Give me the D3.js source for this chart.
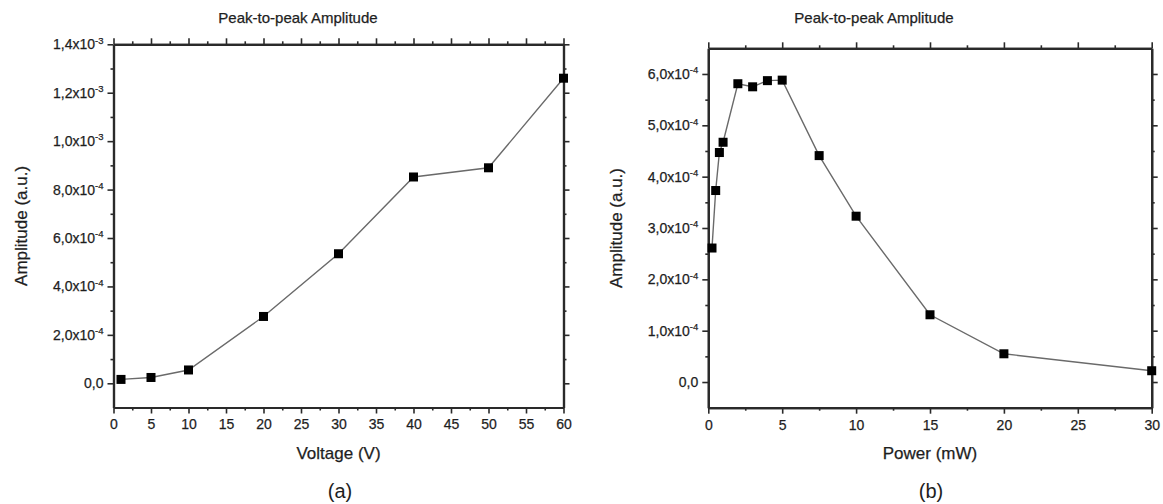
<!DOCTYPE html>
<html>
<head>
<meta charset="utf-8">
<script src="https://cdn.jsdelivr.net/npm/d3@7"></script>
<style>
  body { margin: 0; background: #fff; }
  svg { display: block; font-family: "Liberation Sans", Arial, sans-serif; }
  text { stroke: #1e1e1e; stroke-width: 0.25px; }
</style>
</head>
<body>
<svg id="chart"></svg>
<script>
// Panel (a): amplitude vs voltage
const voltage = [1, 5, 10, 20, 30, 40, 50, 60];
const ampVoltage = [1.6e-5, 2.4e-5, 5.5e-5, 2.76e-4, 5.35e-4, 8.52e-4, 8.9e-4, 1.26e-3];
const voltageTicks = [0, 5, 10, 15, 20, 25, 30, 35, 40, 45, 50, 55, 60];
const ampVoltageTicks = [0, 2e-4, 4e-4, 6e-4, 8e-4, 1.0e-3, 1.2e-3, 1.4e-3];

// Panel (b): amplitude vs power
const power = [0.25, 0.5, 0.75, 1, 2, 3, 4, 5, 7.5, 10, 15, 20, 30];
const ampPower = [2.61e-4, 3.73e-4, 4.47e-4, 4.67e-4, 5.81e-4, 5.75e-4, 5.87e-4, 5.88e-4, 4.41e-4, 3.23e-4, 1.31e-4, 5.5e-5, 2.2e-5];
const powerTicks = [0, 5, 10, 15, 20, 25, 30];
const ampPowerTicks = [0, 1e-4, 2e-4, 3e-4, 4e-4, 5e-4, 6e-4];

const width = 1163, height = 504;
const svg = d3.select("#chart").attr("width", width).attr("height", height);
const ink = "#1e1e1e";

// "6,0x10^-4" style label, written into a text node
function sciLabel(sel, v) {
    if (v === 0) { sel.text("0,0"); return; }
    const e = Math.floor(Math.log10(Math.abs(v)) + 1e-9);
    const m = (v / Math.pow(10, e)).toFixed(1).replace(".", ",");
    sel.text(null);
    sel.append("tspan").text(m + "x10");
    sel.append("tspan").style("font-size", "9.5px").attr("dy", "-0.6em").text(e);
}

function midTicks(ticks) {
    const out = [];
    for (let i = 0; i < ticks.length - 1; i++) out.push((ticks[i] + ticks[i + 1]) / 2);
    return out;
}

function styleAxis(a) {
    a.select(".domain").attr("stroke", "#2a2a2a").attr("stroke-width", 2.2);
    a.selectAll(".tick line").attr("stroke", "#2a2a2a").attr("stroke-width", 1.6);
    a.selectAll(".tick text")
        .attr("fill", ink)
        .style("font-family", "'Liberation Sans', Arial, sans-serif")
        .style("font-size", "14px");
}

function drawPanel(p) {
    const x = d3.scaleLinear().domain(p.xDomain).range([p.left, p.right]);
    const y = d3.scaleLinear().domain(p.yDomain).range([p.bottom, p.top]);
    const g = svg.append("g");

    const xMinor = midTicks(p.xTicks), yMinor = midTicks(p.yTicks);

    // minor ticks on all four sides
    g.append("g").attr("transform", `translate(0,${p.bottom})`)
        .call(d3.axisBottom(x).tickValues(xMinor).tickSize(3).tickSizeOuter(0).tickFormat("")).call(styleAxis);
    g.append("g").attr("transform", `translate(0,${p.top})`)
        .call(d3.axisTop(x).tickValues(xMinor).tickSize(3).tickSizeOuter(0).tickFormat("")).call(styleAxis);
    g.append("g").attr("transform", `translate(${p.left},0)`)
        .call(d3.axisLeft(y).tickValues(yMinor).tickSize(3).tickSizeOuter(0).tickFormat("")).call(styleAxis);
    g.append("g").attr("transform", `translate(${p.right},0)`)
        .call(d3.axisRight(y).tickValues(yMinor).tickSize(3).tickSizeOuter(0).tickFormat("")).call(styleAxis);

    // major ticks
    g.append("g").attr("transform", `translate(0,${p.bottom})`)
        .call(d3.axisBottom(x).tickValues(p.xTicks).tickSize(6).tickPadding(6).tickSizeOuter(0).tickFormat(d3.format("d")))
        .call(styleAxis);
    g.append("g").attr("transform", `translate(0,${p.top})`)
        .call(d3.axisTop(x).tickValues(p.xTicks).tickSize(6).tickSizeOuter(0).tickFormat("")).call(styleAxis);
    const yAx = g.append("g").attr("transform", `translate(${p.left},0)`)
        .call(d3.axisLeft(y).tickValues(p.yTicks).tickSize(6).tickPadding(4).tickSizeOuter(0))
        .call(styleAxis);
    yAx.selectAll(".tick text").each(function(d) { sciLabel(d3.select(this), d); });
    g.append("g").attr("transform", `translate(${p.right},0)`)
        .call(d3.axisRight(y).tickValues(p.yTicks).tickSize(6).tickSizeOuter(0).tickFormat("")).call(styleAxis);

    const pts = p.xs.map((v, i) => [v, p.ys[i]]);
    g.append("path")
        .datum(pts)
        .attr("fill", "none")
        .attr("stroke", "#6a6a6a")
        .attr("stroke-width", 1.4)
        .attr("d", d3.line().x(d => x(d[0])).y(d => y(d[1])));

    g.selectAll("rect.pt").data(pts).enter().append("rect")
        .attr("class", "pt")
        .attr("x", d => x(d[0]) - 4.5)
        .attr("y", d => y(d[1]) - 4.5)
        .attr("width", 9).attr("height", 9)
        .attr("fill", "#000");

    // texts
    g.append("text").attr("x", p.titleX).attr("y", 23)
        .attr("text-anchor", "middle").style("font-size", "15px").attr("fill", ink)
        .text("Peak-to-peak Amplitude");
    g.append("text").attr("x", (p.left + p.right) / 2).attr("y", 459)
        .attr("text-anchor", "middle").style("font-size", "17px").attr("fill", ink)
        .text(p.xLabel);
    g.append("text")
        .attr("transform", `translate(${p.yLabelX},${(p.top + p.bottom) / 2}) rotate(-90)`)
        .attr("text-anchor", "middle").style("font-size", "17px").attr("fill", ink)
        .text("Amplitude (a.u.)");
    g.append("text").attr("x", p.tagX).attr("y", 498)
        .attr("text-anchor", "middle").style("font-size", "20px").attr("fill", ink)
        .style("stroke-width", "0")
        .text(p.tag);
}

drawPanel({
    xs: voltage, ys: ampVoltage, xTicks: voltageTicks, yTicks: ampVoltageTicks,
    xDomain: [0, 60], yDomain: [-1e-4, 1.4e-3],
    left: 113.5, right: 563.5, top: 44.3, bottom: 407.5,
    titleX: 298, yLabelX: 27, tagX: 340,
    xLabel: "Voltage (V)", tag: "(a)"
});

drawPanel({
    xs: power, ys: ampPower, xTicks: powerTicks, yTicks: ampPowerTicks,
    xDomain: [0, 30], yDomain: [-5e-5, 6.5e-4],
    left: 708.3, right: 1151.7, top: 48.3, bottom: 407.7,
    titleX: 874, yLabelX: 622, tagX: 931,
    xLabel: "Power (mW)", tag: "(b)"
});
</script>
</body>
</html>
